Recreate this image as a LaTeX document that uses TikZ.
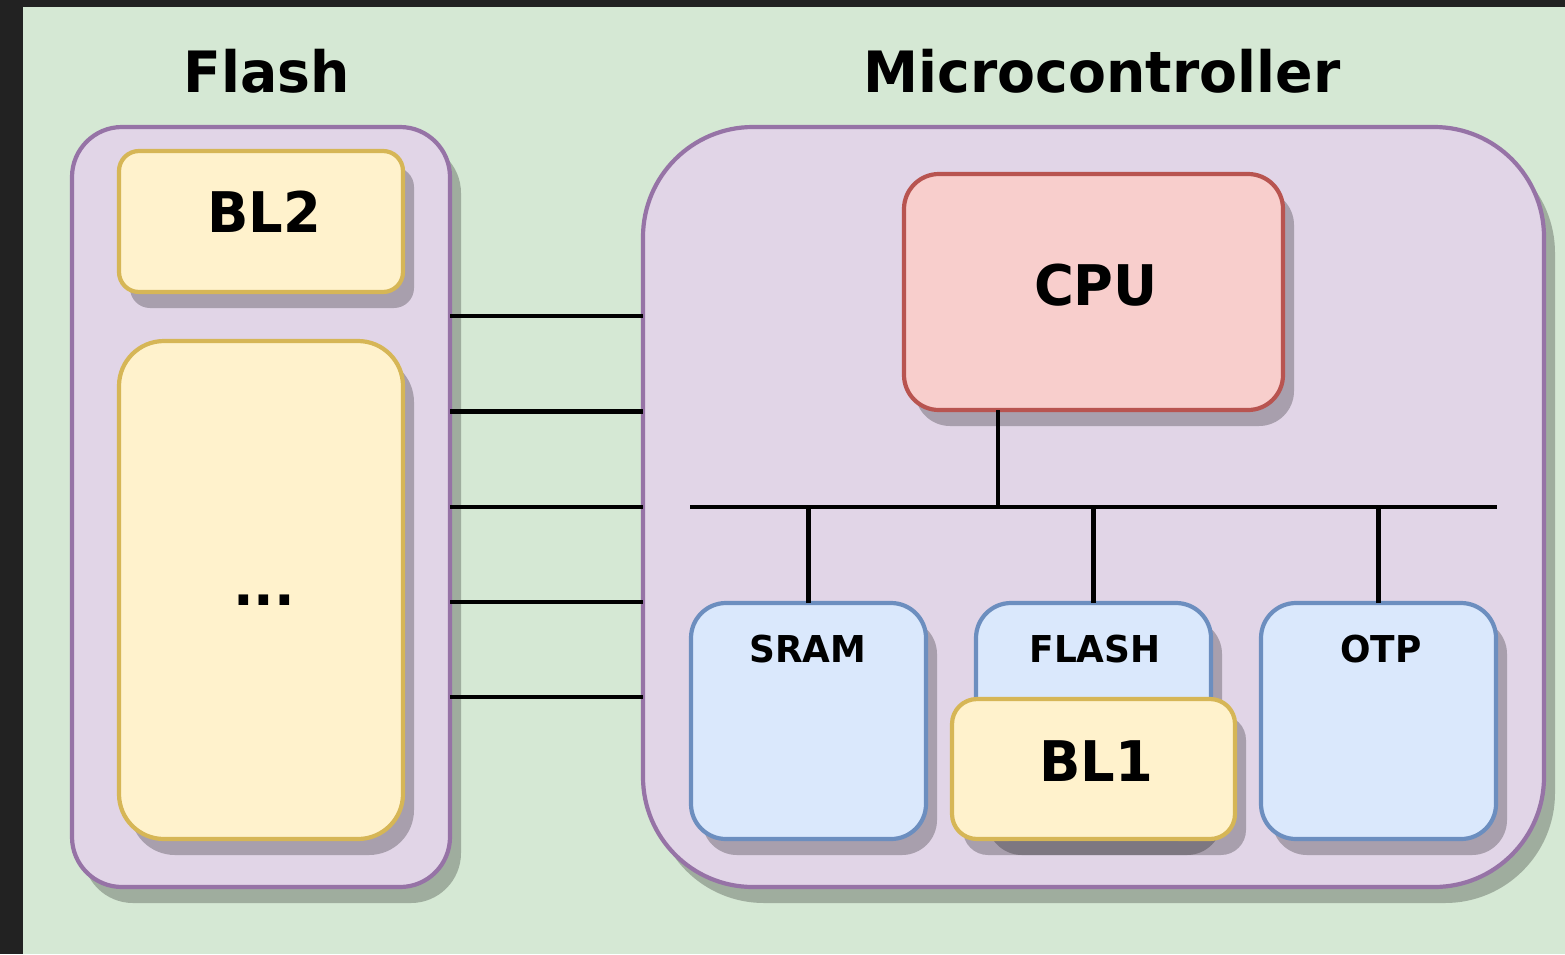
\documentclass[tikz,border=0pt]{standalone}
\usepackage{fontspec}
\setmainfont{DejaVu Sans}[FakeStretch=0.97]
\usetikzlibrary{shadows}
\definecolor{frame}{HTML}{222222}
\definecolor{bg}{HTML}{D5E8D4}
\definecolor{purpleFill}{HTML}{E1D5E7}
\definecolor{purpleLine}{HTML}{9673A6}
\definecolor{yellowFill}{HTML}{FFF2CC}
\definecolor{yellowLine}{HTML}{D6B656}
\definecolor{redFill}{HTML}{F8CECC}
\definecolor{redLine}{HTML}{B85450}
\definecolor{blueFill}{HTML}{DAE8FC}
\definecolor{blueLine}{HTML}{6C8EBF}
\tikzset{
  shade box/.style={general shadow={shadow xshift=11pt, shadow yshift=-16pt, fill=black, opacity=0.25}},
  box/.style={shade box, draw, line width=4.2pt, inner sep=0pt, outer sep=0pt},
  container/.style={box, fill=purpleFill, draw=purpleLine},
  memory/.style={box, fill=yellowFill, draw=yellowLine},
  core/.style={box, fill=redFill, draw=redLine},
  block/.style={box, fill=blueFill, draw=blueLine},
  title/.style={font=\fontsize{57}{62}\selectfont\bfseries, anchor=base, inner sep=0pt},
  biglabel/.style={font=\fontsize{56}{62}\selectfont\bfseries, anchor=base, inner sep=0pt},
  smalllabel/.style={font=\fontsize{37}{42}\selectfont\bfseries, anchor=base, inner sep=0pt},
  wire/.style={line width=4.2pt, black},
}
\begin{document}
\begin{tikzpicture}[x=1pt, y=-1pt]
  % canvas with dark frame
  \fill[frame] (0,0) rectangle (1565,954);
  \fill[bg] (23,7) rectangle (1565,954);
  \useasboundingbox (0,0) rectangle (1565,954);

  % titles
  \node[title] (flashTitle) at (267,92) {Flash};
  \node[title] (mcuTitle) at (1102,92) {Microcontroller};

  % external flash
  \node[container, rounded corners=50pt, minimum width=378pt, minimum height=760pt] (flash) at (261,507) {};
  \node[memory, rounded corners=20pt, minimum width=284pt, minimum height=141pt] (bl2) at (261,221.5) {};
  \node[biglabel] (bl2Text) at (264,232) {BL2};
  \node[memory, rounded corners=45pt, minimum width=284pt, minimum height=498pt] (rest) at (261,590) {};
  \node[biglabel] (restText) at (264,605) {...};

  % microcontroller
  \node[container, rounded corners=110pt, minimum width=901pt, minimum height=760pt] (mcu) at (1093.5,507) {};
  \node[core, rounded corners=35pt, minimum width=379pt, minimum height=236pt] (cpu) at (1093.5,292) {};
  \node[biglabel] (cpuText) at (1096,305) {CPU};

  \node[block, rounded corners=35pt, minimum width=235pt, minimum height=236pt] (sram) at (808.5,721) {};
  \node[smalllabel] (sramText) at (808,662) {SRAM};
  \node[block, rounded corners=35pt, minimum width=235pt, minimum height=236pt] (flashBlk) at (1093.5,721) {};
  \node[smalllabel] (flashText) at (1095,662) {FLASH};
  \node[block, rounded corners=35pt, minimum width=235pt, minimum height=236pt] (otp) at (1378.5,721) {};
  \node[smalllabel] (otpText) at (1381,662) {OTP};
  \node[memory, rounded corners=25pt, minimum width=283pt, minimum height=140pt] (bl1) at (1093.5,769) {};
  \node[biglabel] (bl1Text) at (1096,781) {BL1};

  % internal bus
  \coordinate (busL) at (690,507);
  \coordinate (busR) at (1497,507);
  \coordinate (tapCpu) at (998,507);
  \draw[wire] (busL) -- (busR);
  \draw[wire] (tapCpu |- cpu.south) -- (tapCpu);
  \draw[wire] (sram.north) -- (sram.north |- busL);
  \draw[wire] (flashBlk.north) -- (flashBlk.north |- busL);
  \draw[wire] (otp.north) -- (otp.north |- busL);

  % external interface lines
  \foreach \y in {316,411.5,507,602,697}{
    \draw[wire] (flash.east |- 0,\y) -- (mcu.west |- 0,\y);
  }
\end{tikzpicture}
\end{document}
